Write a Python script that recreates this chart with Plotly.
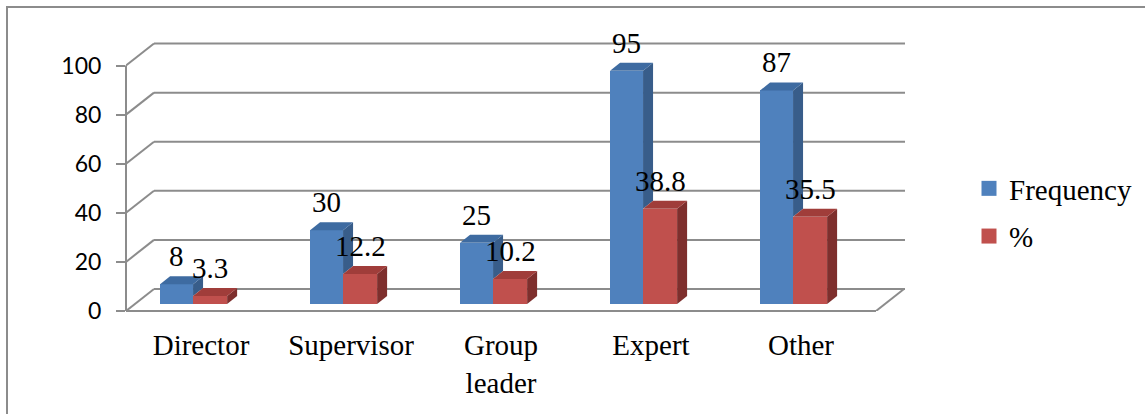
import plotly.graph_objects as go

# Survey results by job position
categories = ["Director", "Supervisor", "Group<br>leader", "Expert", "Other"]
frequency = [8, 30, 25, 95, 87]
percent = [3.3, 12.2, 10.2, 38.8, 35.5]
y_ticks = [0, 20, 40, 60, 80, 100]

# ---- layout geometry (pixels) ----
W, H = 1145, 414
PLOT_L, PLOT_R = 126, 905
PLOT_T, PLOT_B = 41, 311
X_MIN = -0.5
Y_MAX = 110
PX_PER_X = 150.0
X_MAX = X_MIN + (PLOT_R - PLOT_L) / PX_PER_X
PX_PER_Y = (PLOT_B - PLOT_T) / Y_MAX

# pseudo-3D depth of the walls/floor and of the bars, in data units
WALL_DX = 28 / PX_PER_X
WALL_DY = 22 / PX_PER_Y
BAR_BASE = 7 / PX_PER_Y
BAR_DX = 10 / PX_PER_X
BAR_DY = 8 / PX_PER_Y

BLUE = dict(front="#4F81BD", side="#385D8A", top="#3E6BA1")
RED = dict(front="#C0504D", side="#7E2F2D", top="#A03D3A")
GRID = "#8C8C8C"
SERIF = "Liberation Serif, Times New Roman, serif"

series = [
    ("Frequency", frequency, -0.273, 0.22, BLUE),
    ("%", percent, -0.053, 0.227, RED),
]


def paper_x(px):
    return (px - PLOT_L) / (PLOT_R - PLOT_L)


def paper_y(py):
    return (PLOT_B - py) / (PLOT_B - PLOT_T)


fig = go.Figure()
idx = list(range(len(categories)))

# front faces of the bars
for name, vals, off, wid, col in series:
    fig.add_trace(go.Bar(
        x=idx, y=vals, base=BAR_BASE, offset=off, width=wid,
        marker=dict(color=col["front"], line=dict(width=0)),
        showlegend=False, hoverinfo="skip",
    ))

# side and top faces of the bars
for s, (name, vals, off, wid, col) in enumerate(series):
    for i, v in enumerate(vals):
        x0 = i + off
        x1 = x0 + wid
        top = BAR_BASE + v
        # the side of the front series is hidden below the next series' top
        low = BAR_BASE + series[s + 1][1][i] if s + 1 < len(series) else BAR_BASE
        fig.add_trace(go.Scatter(
            x=[x1, x1 + BAR_DX, x1 + BAR_DX, x1, x1],
            y=[low, low + BAR_DY, top + BAR_DY, top, low],
            fill="toself", fillcolor=col["side"], mode="lines",
            line=dict(width=0), showlegend=False, hoverinfo="skip",
        ))
        fig.add_trace(go.Scatter(
            x=[x0, x1, x1 + BAR_DX, x0 + BAR_DX, x0],
            y=[top, top, top + BAR_DY, top + BAR_DY, top],
            fill="toself", fillcolor=col["top"], mode="lines",
            line=dict(width=0), showlegend=False, hoverinfo="skip",
        ))
        fig.add_annotation(
            x=x0 + wid / 2, y=top + BAR_DY, text=f"{v:g}",
            showarrow=False, yanchor="bottom", yshift=2,
            font=dict(family=SERIF, size=29, color="#000000"),
        )

# legend entries
for name, vals, off, wid, col in series:
    fig.add_trace(go.Scatter(
        x=[None], y=[None], mode="markers", name=name, legendgroup=name,
        marker=dict(symbol="square", size=15, color=col["front"]),
    ))

# walls and floor
shapes = []
for t in y_ticks:
    shapes.append(dict(type="line", xref="x", yref="y", layer="below",
                       x0=X_MIN + WALL_DX, x1=X_MAX, y0=t + WALL_DY, y1=t + WALL_DY,
                       line=dict(color=GRID, width=2)))
    shapes.append(dict(type="line", xref="x", yref="y", layer="below",
                       x0=X_MIN, x1=X_MIN + WALL_DX, y0=t, y1=t + WALL_DY,
                       line=dict(color=GRID, width=2)))
n = len(categories)
shapes.append(dict(type="line", xref="x", yref="y", layer="below",
                   x0=X_MIN + n, x1=X_MIN + n + WALL_DX, y0=0, y1=WALL_DY,
                   line=dict(color=GRID, width=2)))
shapes.append(dict(type="line", xref="x", yref="paper", layer="below",
                   x0=X_MIN, x1=X_MIN + n, y0=0, y1=0,
                   line=dict(color=GRID, width=2)))
shapes.append(dict(type="line", xref="paper", yref="y", layer="below",
                   x0=0, x1=0, y0=0, y1=y_ticks[-1],
                   line=dict(color=GRID, width=2)))
# outer chart border
shapes.append(dict(type="rect", xref="paper", yref="paper", layer="below",
                   x0=paper_x(7), x1=paper_x(W + 20), y0=paper_y(H + 20), y1=paper_y(7),
                   line=dict(color=GRID, width=2)))

fig.update_layout(
    width=W, height=H,
    margin=dict(l=PLOT_L, r=W - PLOT_R, t=PLOT_T, b=H - PLOT_B, autoexpand=False),
    paper_bgcolor="white", plot_bgcolor="white",
    barmode="overlay", bargap=0,
    shapes=shapes,
    showlegend=True,
    legend=dict(
        x=paper_x(969), xanchor="left", y=paper_y(163), yanchor="top",
        font=dict(family=SERIF, size=29, color="#000000"),
        bgcolor="rgba(0,0,0,0)", itemwidth=30,
        traceorder="grouped", tracegroupgap=7,
    ),
    xaxis=dict(
        range=[X_MIN, X_MAX], tickmode="array", tickvals=idx, ticktext=categories,
        ticks="", showgrid=False, zeroline=False, showline=False,
        tickfont=dict(family=SERIF, size=29, color="#000000"),
        ticklabelstandoff=14,
    ),
    xaxis2=dict(
        range=[X_MIN, X_MAX], overlaying="x", anchor="y", side="bottom",
        tickmode="array", tickvals=[X_MIN + k for k in range(n + 1)],
        ticks="outside", ticklen=7, tickwidth=2, tickcolor=GRID,
        showticklabels=False, showgrid=False, zeroline=False, showline=False,
    ),
    yaxis=dict(
        range=[0, Y_MAX], tickmode="array", tickvals=y_ticks,
        ticks="outside", ticklen=9, tickwidth=2, tickcolor=GRID,
        showgrid=False, zeroline=False, showline=False,
        tickfont=dict(family="Lato", size=23, color="#000000"),
        ticklabelstandoff=10,
    ),
)

fig.write_html("out.html")
